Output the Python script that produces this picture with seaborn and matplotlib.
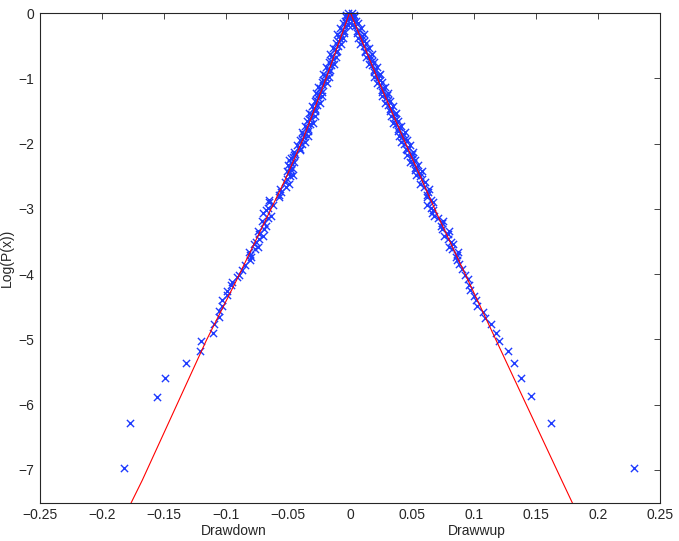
import pandas as pd
import matplotlib
matplotlib.use('Agg')
import matplotlib.pyplot as plt
import seaborn as sns

# log(P(x)) levels of the dense part of both tails
dense_logp = [0.0, -0.05, -0.10, -0.15, -0.20, -0.25, -0.30, -0.35, -0.40, -0.45,
              -0.50, -0.55, -0.60, -0.65, -0.70, -0.75, -0.80, -0.85, -0.90, -0.95,
              -1.00, -1.05, -1.10, -1.15, -1.20, -1.25, -1.30, -1.35, -1.40, -1.45,
              -1.50, -1.55, -1.60, -1.65, -1.70, -1.75, -1.80, -1.85, -1.90, -1.95,
              -2.00, -2.05, -2.10, -2.15, -2.20, -2.25, -2.30, -2.35, -2.40, -2.45,
              -2.50, -2.58, -2.66, -2.74, -2.82, -2.90, -2.98, -3.06, -3.14, -3.22,
              -3.30, -3.38, -3.46, -3.54, -3.62, -3.70, -3.78]
dense_logp_b = [-0.025, -0.075, -0.125, -0.175, -0.225, -0.275, -0.325, -0.375, -0.425, -0.475,
                -0.525, -0.575, -0.625, -0.675, -0.725, -0.775, -0.825, -0.875, -0.925, -0.975,
                -1.025, -1.075, -1.125, -1.175, -1.225, -1.275, -1.325, -1.375, -1.425, -1.475,
                -1.525, -1.575, -1.625, -1.675, -1.725, -1.775, -1.825, -1.875, -1.925, -1.975,
                -2.025, -2.075, -2.125, -2.175, -2.225, -2.275, -2.325, -2.375, -2.425, -2.475,
                -2.54, -2.62, -2.70, -2.78, -2.86, -2.94, -3.02, -3.10, -3.18, -3.26,
                -3.34, -3.42, -3.50, -3.58, -3.66, -3.74]

drawdown_dense = [-0.0019, -0.0032, -0.0025, -0.0057, -0.0038, -0.0062, -0.0051, -0.0089, -0.0082, -0.0114,
                  -0.0096, -0.0119, -0.0109, -0.0146, -0.0140, -0.0171, -0.0153, -0.0176, -0.0166, -0.0204,
                  -0.0197, -0.0229, -0.0220, -0.0244, -0.0223, -0.0261, -0.0254, -0.0286, -0.0267, -0.0291,
                  -0.0281, -0.0318, -0.0312, -0.0343, -0.0325, -0.0348, -0.0338, -0.0375, -0.0369, -0.0402,
                  -0.0385, -0.0411, -0.0402, -0.0442, -0.0458, -0.0491, -0.0475, -0.0480, -0.0472, -0.0491,
                  -0.0487, -0.0528, -0.0520, -0.0555, -0.0575, -0.0654, -0.0658, -0.0700, -0.0663, -0.0697,
                  -0.0690, -0.0731, -0.0735, -0.0778, -0.0770, -0.0804, -0.0805]
drawdown_dense_b = [-0.0030, -0.0010, -0.0042, -0.0013, -0.0079, -0.0051, -0.0102, -0.0054, -0.0099, -0.0071,
                    -0.0136, -0.0108, -0.0159, -0.0111, -0.0157, -0.0128, -0.0194, -0.0165, -0.0217, -0.0168,
                    -0.0214, -0.0185, -0.0261, -0.0232, -0.0274, -0.0226, -0.0271, -0.0243, -0.0308, -0.0280,
                    -0.0331, -0.0283, -0.0328, -0.0300, -0.0366, -0.0337, -0.0389, -0.0340, -0.0386, -0.0359,
                    -0.0427, -0.0401, -0.0454, -0.0448, -0.0475, -0.0449, -0.0497, -0.0470, -0.0504, -0.0457,
                    -0.0508, -0.0490, -0.0567, -0.0569, -0.0651, -0.0624, -0.0680, -0.0633, -0.0709, -0.0676,
                    -0.0739, -0.0701, -0.0757, -0.0740, -0.0816, -0.0798]

drawwup_dense = [0.0019, 0.0033, 0.0028, 0.0061, 0.0044, 0.0069, 0.0060, 0.0099, 0.0094, 0.0127,
                 0.0110, 0.0134, 0.0125, 0.0164, 0.0159, 0.0192, 0.0175, 0.0200, 0.0191, 0.0230,
                 0.0225, 0.0258, 0.0241, 0.0266, 0.0257, 0.0296, 0.0291, 0.0324, 0.0307, 0.0332,
                 0.0323, 0.0361, 0.0356, 0.0389, 0.0372, 0.0397, 0.0388, 0.0427, 0.0422, 0.0456,
                 0.0439, 0.0465, 0.0457, 0.0497, 0.0492, 0.0526, 0.0510, 0.0535, 0.0527, 0.0567,
                 0.0563, 0.0603, 0.0594, 0.0627, 0.0625, 0.0672, 0.0655, 0.0662, 0.0707, 0.0741,
                 0.0741, 0.0788, 0.0792, 0.0834, 0.0826, 0.0859, 0.0859]
drawwup_dense_b = [0.0030, 0.0010, 0.0045, 0.0018, 0.0085, 0.0058, 0.0111, 0.0064, 0.0111, 0.0084,
                   0.0151, 0.0124, 0.0177, 0.0130, 0.0177, 0.0150, 0.0217, 0.0190, 0.0243, 0.0196,
                   0.0243, 0.0215, 0.0282, 0.0255, 0.0308, 0.0261, 0.0308, 0.0281, 0.0348, 0.0321,
                   0.0374, 0.0327, 0.0374, 0.0347, 0.0414, 0.0387, 0.0440, 0.0393, 0.0440, 0.0414,
                   0.0481, 0.0455, 0.0509, 0.0462, 0.0510, 0.0484, 0.0552, 0.0525, 0.0579, 0.0533,
                   0.0584, 0.0565, 0.0639, 0.0620, 0.0651, 0.0622, 0.0666, 0.0677, 0.0753, 0.0735,
                   0.0797, 0.0758, 0.0814, 0.0796, 0.0871, 0.0853]

# sparse extreme events
drawdown_tail = [-0.0846, -0.0870, -0.0893, -0.0909, -0.0949, -0.0957, -0.0990, -0.0994, -0.1030, -0.1035,
                 -0.1056, -0.1059, -0.1094, -0.1105, -0.1207, -0.1204, -0.1323, -0.1494, -0.1556, -0.1777,
                 -0.1820]
drawdown_tail_logp = [-3.86, -3.94, -4.011, -4.047, -4.114, -4.165, -4.252, -4.318, -4.395, -4.487,
                      -4.563, -4.650, -4.767, -4.896, -5.176, -5.023, -5.360, -5.585, -5.877, -6.275,
                      -6.965]

drawwup_tail = [0.0881, 0.0903, 0.0927, 0.0952, 0.0962, 0.0968, 0.1000, 0.1016, 0.1022, 0.1075,
                0.1089, 0.1137, 0.1177, 0.1199, 0.1272, 0.1320, 0.1377, 0.1462, 0.1619, 0.2288]
drawwup_tail_logp = [-3.843, -3.925, -4.011, -4.078, -4.165, -4.240, -4.333, -4.395, -4.482, -4.574,
                     -4.666, -4.767, -4.896, -5.023, -5.181, -5.360, -5.585, -5.870, -6.280, -6.969]

# fitted curves (red)
fit_down_x = [-0.0005, -0.0188, -0.0376, -0.0524, -0.0914, -0.1160, -0.1675, -0.1790]
fit_down_logp = [0.0, -0.972, -1.917, -2.556, -4.088, -5.020, -7.157, -7.600]
fit_up_x = [0.0005, 0.0215, 0.0430, 0.0699, 0.1102, 0.1707, 0.1817]
fit_up_logp = [0.0, -0.972, -1.917, -3.066, -4.701, -7.157, -7.600]

xticks = [-0.25, -0.2, -0.15, -0.1, -0.05, 0, 0.05, 0.1, 0.15, 0.2, 0.25]
xtick_labels = ['\u22120.25', '\u22120.2', '\u22120.15', '\u22120.1', '\u22120.05', '0',
                '0.05', '0.1', '0.15', '0.2', '0.25']
yticks = [-7, -6, -5, -4, -3, -2, -1, 0]

points = pd.DataFrame({
    'x': drawdown_dense + drawdown_dense_b + drawwup_dense + drawwup_dense_b
         + drawdown_tail + drawwup_tail,
    'logp': dense_logp + dense_logp_b + dense_logp + dense_logp_b
            + drawdown_tail_logp + drawwup_tail_logp,
})

sns.set_theme(style='white')
plt.rcParams['font.family'] = ['Liberation Sans', 'DejaVu Sans']

fig = plt.figure(figsize=(6.79, 5.41), dpi=100)
ax = fig.add_axes([0.0589, 0.071, 0.9131, 0.9045])

sns.lineplot(x=fit_down_x, y=fit_down_logp, sort=False, estimator=None,
             color='red', linewidth=0.8, ax=ax)
sns.lineplot(x=fit_up_x, y=fit_up_logp, sort=False, estimator=None,
             color='red', linewidth=0.8, ax=ax)
sns.scatterplot(data=points, x='x', y='logp', marker='x', s=27,
                color='#1e3bff', linewidth=1.0, ax=ax, zorder=1)
ax.collections[-1].set_clip_on(False)

ax.set_xlim(-0.25, 0.25)
ax.set_ylim(-7.5, 0)
ax.set_xticks(xticks)
ax.set_xticklabels(xtick_labels)
ax.set_yticks(yticks)
ax.set_yticklabels(['\u2212%d' % -t if t else '0' for t in yticks])
ax.tick_params(direction='in', top=True, right=True, length=4, width=0.6,
               labelsize=10, colors='#262626', pad=4)
for sp in ax.spines.values():
    sp.set_linewidth(0.8)
    sp.set_color('#262626')

ax.set_xlabel('')
ax.set_ylabel('Log(P(x))', fontsize=10, labelpad=3)
ax.annotate('Drawdown', xy=(-0.094, 0), xycoords=('data', 'axes fraction'),
            xytext=(0, -20.5), textcoords='offset points', ha='center', va='center', fontsize=10)
ax.annotate('Drawwup', xy=(0.102, 0), xycoords=('data', 'axes fraction'),
            xytext=(0, -20.5), textcoords='offset points', ha='center', va='center', fontsize=10)

fig.savefig('out.png', dpi=100)
